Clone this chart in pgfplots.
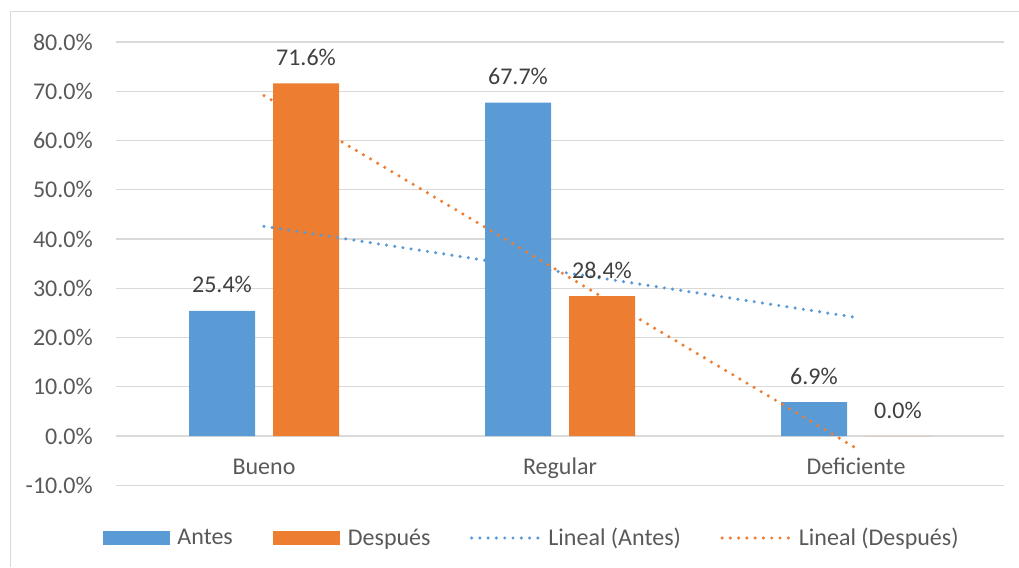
\documentclass[border=0pt]{standalone}
\usepackage{pgfplots}
\pgfplotsset{compat=1.18}
\usepackage{fontspec}
\setmainfont{Carlito}
\definecolor{antes}{HTML}{5B9BD5}
\definecolor{despues}{HTML}{ED7D31}
\definecolor{gridgray}{HTML}{D9D9D9}
\definecolor{labelgray}{HTML}{595959}
\definecolor{valuegray}{HTML}{404040}
\newcommand{\chartfont}{\fontsize{18}{21.5}\selectfont}
\tikzset{
  trend/.style={line width=2.6pt, dash pattern=on 0pt off 6.2pt, line cap=round},
}
\begin{document}
\begin{tikzpicture}
\path[use as bounding box] (0,0) rectangle (764.25pt,425.25pt);
% chart frame
\draw[gridgray, line width=0.75pt] (7.5pt,0) -- (7.5pt,416.25pt) -- (764.25pt,416.25pt);
\begin{axis}[
  at={(87pt,61.3125pt)}, anchor=south west,
  scale only axis, width=666pt, height=332.4375pt,
  xmin=0.5, xmax=3.5, ymin=-10, ymax=80,
  xtick={1,2,3}, xticklabels={Bueno,Regular,Deficiente},
  ytick={-10,0,...,80},
  ymajorgrids, grid style={gridgray, line width=1pt},
  axis line style={draw=none}, major tick length=0pt,
  ticklabel style={font=\chartfont, text=labelgray},
  yticklabel={\pgfmathprintnumber[fixed,fixed zerofill,precision=1,assume math mode=true]{\tick}\%},
  yticklabel style={anchor=east, inner sep=0pt, xshift=-17.25pt},
  xticklabel style={anchor=base, inner sep=0pt, yshift=7.7pt},
  ybar, bar width=49.5pt,
  legend columns=4,
  legend style={at={(-0.01464,-0.119)}, anchor=west, draw=none, fill=none,
    inner sep=0pt, outer sep=0pt, column sep=0pt, font=\chartfont,
    text=labelgray, nodes={inner sep=0pt, text=labelgray},
    /tikz/every odd column/.style={column sep=5.6pt}},
]
\addplot[ybar, fill=antes, draw=none, bar shift=-31.5pt,
  nodes near coords={\pgfmathprintnumber[fixed,fixed zerofill,precision=1,assume math mode=true]{\pgfplotspointmeta}\%},
  every node near coord/.append style={font=\chartfont, text=valuegray, anchor=base, yshift=13.5pt},
  legend image code/.code={\fill[antes] (0pt,-4.875pt) rectangle (50.25pt,4.875pt);}]
  coordinates {(1,25.4) (2,67.7) (3,6.9)};
\addlegendentry{\makebox[72pt][l]{Antes}}
\addplot[ybar, fill=despues, draw=none, bar shift=31.5pt,
  nodes near coords={\pgfmathprintnumber[fixed,fixed zerofill,precision=1,assume math mode=true]{\pgfplotspointmeta}\%},
  every node near coord/.append style={font=\chartfont, text=valuegray, anchor=base, yshift=13.5pt},
  legend image code/.code={\fill[despues] (0pt,-4.875pt) rectangle (50.25pt,4.875pt);}]
  coordinates {(1,71.6) (2,28.4) (3,0.0)};
\addlegendentry{\makebox[91.5pt][l]{Después}}
% least-squares trend lines
\addplot[sharp plot, antes, trend,
  legend image code/.code={\draw[antes, trend] (1.3pt,0pt) -- (51.95pt,0pt);}]
  coordinates {(1,42.583) (2,33.333) (3,24.083)};
\addlegendentry{\makebox[129pt][l]{Lineal (Antes)}}
\addplot[sharp plot, despues, trend,
  legend image code/.code={\draw[despues, trend] (1.3pt,0pt) -- (51.95pt,0pt);}]
  coordinates {(1,69.133) (2,33.333) (3,-2.467)};
\addlegendentry{Lineal (Después)}
\end{axis}
\end{tikzpicture}
\end{document}
